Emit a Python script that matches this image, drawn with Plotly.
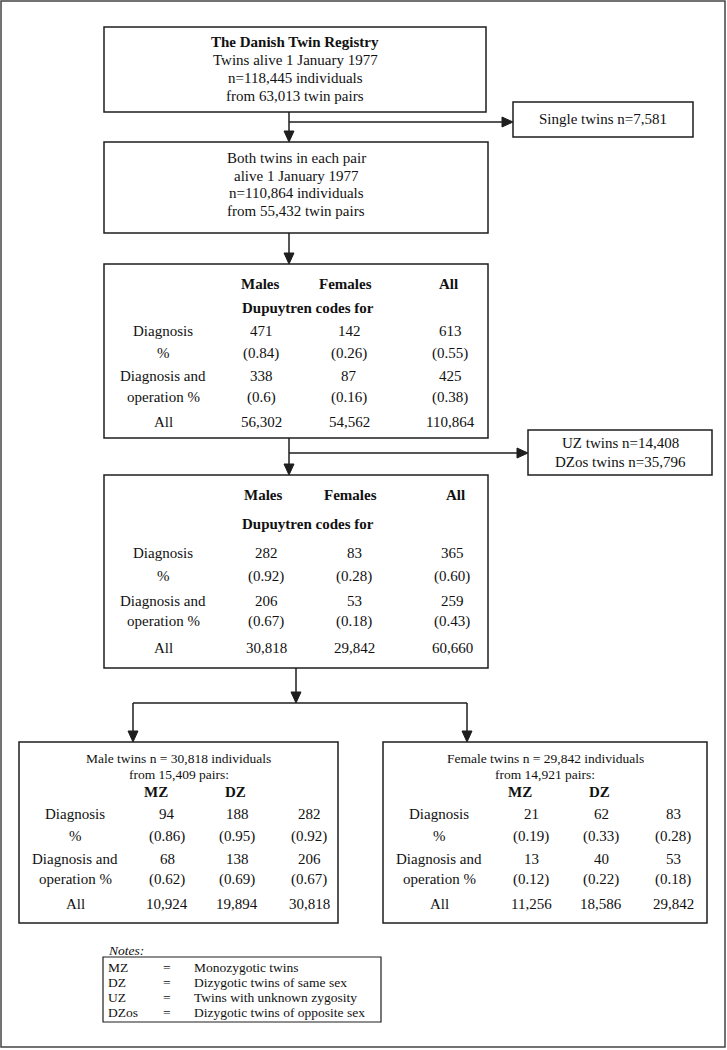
import plotly.graph_objects as go

W, H = 727, 1050

# ---------------- data ----------------
registry_title = "The Danish Twin Registry"
registry_lines = ["Twins alive 1 January 1977", "n=118,445 individuals", "from 63,013 twin pairs"]
single_twins = "Single twins n=7,581"
both_lines = ["Both twins in each pair", "alive 1 January 1977", "n=110,864 individuals", "from 55,432 twin pairs"]
sex_cols = ["Males", "Females", "All"]
codes_header = "Dupuytren codes for"
row_labels = ["Diagnosis", "%", "Diagnosis and", "operation %", "All"]

t1_diag = ["471", "142", "613"]
t1_diag_pct = ["(0.84)", "(0.26)", "(0.55)"]
t1_oper = ["338", "87", "425"]
t1_oper_pct = ["(0.6)", "(0.16)", "(0.38)"]
t1_all = ["56,302", "54,562", "110,864"]

excluded_lines = ["UZ twins n=14,408", "DZos twins n=35,796"]

t2_diag = ["282", "83", "365"]
t2_diag_pct = ["(0.92)", "(0.28)", "(0.60)"]
t2_oper = ["206", "53", "259"]
t2_oper_pct = ["(0.67)", "(0.18)", "(0.43)"]
t2_all = ["30,818", "29,842", "60,660"]

zyg_cols = ["MZ", "DZ"]
male_title = ["Male twins n = 30,818 individuals", "from 15,409 pairs:"]
male_diag = ["94", "188", "282"]
male_diag_pct = ["(0.86)", "(0.95)", "(0.92)"]
male_oper = ["68", "138", "206"]
male_oper_pct = ["(0.62)", "(0.69)", "(0.67)"]
male_all = ["10,924", "19,894", "30,818"]

female_title = ["Female twins n = 29,842 individuals", "from 14,921 pairs:"]
female_diag = ["21", "62", "83"]
female_diag_pct = ["(0.19)", "(0.33)", "(0.28)"]
female_oper = ["13", "40", "53"]
female_oper_pct = ["(0.12)", "(0.22)", "(0.18)"]
female_all = ["11,256", "18,586", "29,842"]

notes_label = "Notes:"
notes_abbr = ["MZ", "DZ", "UZ", "DZos"]
notes_desc = ["Monozygotic twins", "Dizygotic twins of same sex",
              "Twins with unknown zygosity", "Dizygotic twins of opposite sex"]

# ---------------- drawing helpers ----------------
FONT = "Liberation Serif, Times New Roman, serif"
LC = "#1e1e1e"
shapes = []
annos = []


def rect(x0, y0, x1, y1, w=1.5, color=LC):
    shapes.append(dict(type="rect", xref="x", yref="y", x0=x0, y0=y0, x1=x1, y1=y1,
                       line=dict(color=color, width=w), fillcolor="rgba(0,0,0,0)", layer="above"))


def line(x0, y0, x1, y1, w=1.5):
    shapes.append(dict(type="line", xref="x", yref="y", x0=x0, y0=y0, x1=x1, y1=y1,
                       line=dict(color=LC, width=w), layer="above"))


def arrow_down(x, y0, y1, hw=5, hl=11):
    line(x, y0, x, y1 - hl + 1)
    shapes.append(dict(type="path", xref="x", yref="y",
                       path=f"M {x-hw},{y1-hl} L {x+hw},{y1-hl} L {x},{y1} Z",
                       fillcolor=LC, line=dict(color=LC, width=1), layer="above"))


def arrow_right(y, x0, x1, hw=5, hl=11):
    line(x0, y, x1 - hl + 1, y)
    shapes.append(dict(type="path", xref="x", yref="y",
                       path=f"M {x1-hl},{y-hw} L {x1-hl},{y+hw} L {x1},{y} Z",
                       fillcolor=LC, line=dict(color=LC, width=1), layer="above"))


def text(x, y, s, size=15, anchor="center", bold=False, italic=False):
    if bold:
        s = f"<b>{s}</b>"
    if italic:
        s = f"<i>{s}</i>"
    annos.append(dict(x=x, y=y, xref="x", yref="y", text=s, showarrow=False,
                      xanchor=anchor, yanchor="middle",
                      font=dict(family=FONT, size=size, color="#111111")))


# outer frame
rect(1, 1, 725, 1047, w=1.5, color="#444444")

# Box 1
rect(104, 27, 486, 112)
text(295, 42, registry_title, bold=True)
for i, s in enumerate(registry_lines):
    text(295, 60 + 18 * i, s)

# arrow to box 2 and branch to single twins
arrow_down(289, 112, 142)
arrow_right(122, 289, 513)
rect(513, 102, 693, 137)
text(603, 119, single_twins)

# Box 2
rect(104, 142, 488, 233)
for i, s in enumerate(both_lines):
    text(296, 158 + 17.5 * i, s)

arrow_down(289, 233, 264)


def sex_table(top, bottom, hdr_y, codes_y, row_ys, hdr_x, val_x, rows):
    rect(104, top, 488, bottom)
    for c, x in zip(sex_cols, hdr_x):
        text(x, hdr_y, c, bold=True)
    text(308, codes_y, codes_header, bold=True)
    for lab, y in zip(row_labels, row_ys):
        text(163, y, lab)
    for vals, y in zip(rows, row_ys):
        for v, x in zip(vals, val_x):
            text(x, y, v)


sex_table(264, 438, 284, 308, [331, 353, 376, 397, 422],
          [260, 345, 448], [261, 349, 450],
          [t1_diag, t1_diag_pct, t1_oper, t1_oper_pct, t1_all])

# arrow to box 4 and branch to excluded
arrow_down(289, 438, 475)
arrow_right(453, 289, 528)
rect(528, 430, 712, 475)
for i, s in enumerate(excluded_lines):
    text(620, 443 + 19 * i, s)

sex_table(475, 668, 495, 524, [553, 576, 601, 621, 648],
          [263, 350, 455], [266, 354, 452],
          [t2_diag, t2_diag_pct, t2_oper, t2_oper_pct, t2_all])

# split to male / female
arrow_down(296, 668, 703)
line(133, 703, 467, 703)
arrow_down(133, 703, 742)
arrow_down(467, 703, 742)


def zyg_box(x0, x1, title, rows):
    rect(x0, 742, x1, 923)
    cx = (x0 + x1) / 2
    text(cx, 758, title[0], size=13.5)
    text(cx, 774, title[1], size=13.5)
    for c, dx in zip(zyg_cols, [137, 216]):
        text(x0 + dx, 792, c, bold=True)
    row_ys = [814, 836, 859, 879, 904]
    for lab, y in zip(row_labels, row_ys):
        text(x0 + 56, y, lab)
    for vals, y in zip(rows, row_ys):
        for v, dx in zip(vals, [148, 218, 290]):
            text(x0 + dx, y, v)


zyg_box(19, 338, male_title, [male_diag, male_diag_pct, male_oper, male_oper_pct, male_all])
zyg_box(383, 707, female_title, [female_diag, female_diag_pct, female_oper, female_oper_pct, female_all])

# Notes
text(106, 950, notes_label, size=13.5, anchor="left", italic=True)
rect(103, 957, 381, 1022, w=1.2)
for i, (a, d) in enumerate(zip(notes_abbr, notes_desc)):
    y = 967 + 15 * i
    text(106, y, a, size=13.5, anchor="left")
    text(167, y, "=", size=13.5)
    text(192, y, d, size=13.5, anchor="left")

fig = go.Figure()
fig.add_trace(go.Scatter(x=[], y=[], mode="markers", showlegend=False, hoverinfo="skip"))
fig.update_layout(
    width=W, height=H,
    margin=dict(l=0, r=0, t=0, b=0),
    paper_bgcolor="white", plot_bgcolor="white",
    xaxis=dict(range=[0, W], visible=False, fixedrange=True),
    yaxis=dict(range=[H, 0], visible=False, fixedrange=True),
    shapes=shapes, annotations=annos, showlegend=False,
)
fig.write_html("out.html", config={"displayModeBar": False},
               post_script="document.body.style.margin='0';document.body.style.overflow='hidden';")
